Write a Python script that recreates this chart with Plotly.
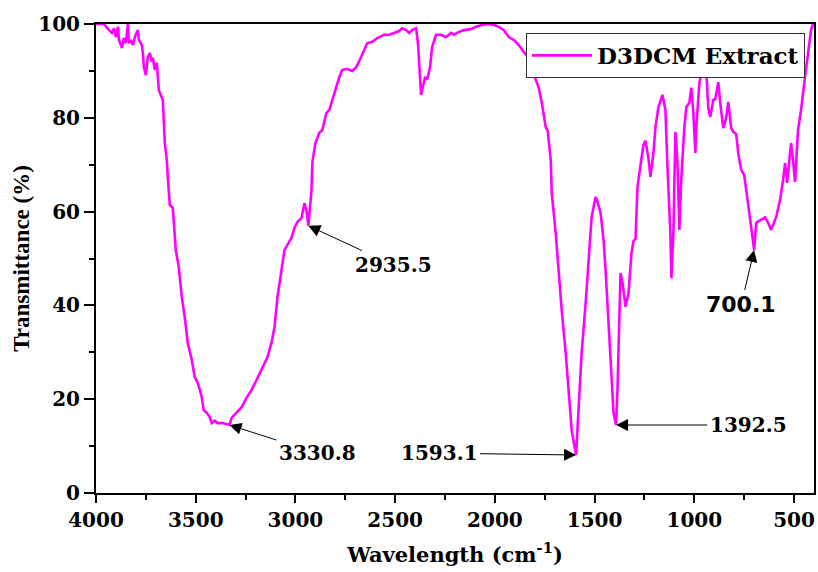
import plotly.graph_objects as go

# FTIR spectrum of the D3DCM extract: wavenumber (cm-1) vs transmittance (%)
wavenumber = [
    4000, 3960, 3935, 3920, 3910, 3900, 3890, 3885, 3870, 3860, 3850, 3840, 3835,
    3825, 3815, 3805, 3790, 3785, 3770, 3765, 3760, 3750, 3740, 3730, 3720, 3715,
    3705, 3695, 3685, 3675, 3665, 3655, 3645, 3640, 3630, 3615, 3600, 3585, 3570,
    3555, 3540, 3520, 3505, 3490, 3470, 3460, 3445, 3430, 3420, 3405, 3390, 3365,
    3330.8, 3320, 3295, 3270, 3245, 3220, 3195, 3165, 3140, 3120, 3105, 3090, 3070,
    3055, 3040, 3020, 3005, 2990, 2970, 2955, 2945, 2935.5, 2920, 2915, 2900, 2880,
    2865, 2845, 2830, 2815, 2795, 2780, 2765, 2740, 2715, 2695, 2670, 2655, 2640,
    2615, 2590, 2555, 2530, 2505, 2480, 2465, 2445, 2430, 2415, 2395, 2385, 2370,
    2360, 2350, 2340, 2325, 2315, 2295, 2270, 2245, 2220, 2205, 2190, 2155, 2120,
    2095, 2065, 2030, 2005, 1980, 1955, 1930, 1905, 1880, 1855, 1830, 1815, 1805,
    1780, 1765, 1745, 1735, 1720, 1715, 1695, 1680, 1665, 1645, 1630, 1615, 1593.1,
    1580, 1565, 1545, 1530, 1520, 1515, 1495, 1485, 1470, 1455, 1445, 1430, 1415,
    1405, 1392.5, 1385, 1370, 1360, 1345, 1330, 1315, 1305, 1295, 1285, 1270, 1255,
    1245, 1230, 1220, 1205, 1195, 1180, 1160, 1145, 1135, 1120, 1115, 1105, 1095,
    1085, 1075, 1065, 1050, 1040, 1025, 1015, 1005, 995, 990, 975, 960, 945, 940,
    930, 920, 905, 895, 880, 870, 855, 840, 830, 815, 805, 790, 780, 765, 750, 735,
    720, 700.1, 690, 670, 645, 630, 615, 590, 570, 555, 545, 535, 515, 505, 495,
    480, 465, 445, 430, 415, 405, 400,
]
transmittance = [
    100.0, 100.0, 98.7, 98.1, 99.1, 97.2, 99.4, 96.6, 94.9, 97.0, 95.9, 100.0, 95.9,
    96.6, 95.5, 97.2, 98.7, 96.6, 95.5, 93.8, 90.8, 89.1, 93.0, 93.8, 91.9, 92.8,
    90.2, 91.7, 85.9, 84.9, 83.8, 74.6, 71.0, 67.4, 61.4, 60.8, 51.8, 48.2, 41.8,
    37.5, 32.0, 28.4, 24.7, 23.5, 20.5, 17.7, 17.1, 16.2, 14.9, 15.4, 14.9, 14.9,
    14.5, 16.0, 17.1, 18.3, 20.3, 22.0, 24.1, 26.7, 29.0, 32.0, 35.4, 41.8, 48.2,
    51.8, 52.9, 54.4, 56.5, 57.8, 58.6, 61.8, 60.3, 57.0, 64.2, 70.6, 74.6, 76.8,
    77.4, 81.0, 81.7, 83.8, 86.6, 88.7, 90.2, 90.4, 90.0, 90.8, 93.0, 94.5, 95.9,
    96.2, 97.0, 97.7, 97.7, 98.1, 98.5, 99.1, 98.7, 98.1, 98.7, 99.1, 95.5, 84.9,
    86.6, 88.7, 88.1, 90.8, 95.1, 97.7, 97.7, 97.2, 98.1, 97.7, 98.1, 98.7, 98.9,
    99.4, 99.8, 100.0, 99.8, 99.4, 98.7, 97.2, 96.6, 95.5, 94.0, 92.8, 91.7, 89.3,
    86.4, 83.2, 78.0, 77.2, 71.0, 64.0, 55.4, 46.9, 39.0, 29.9, 21.3, 13.4, 8.1,
    19.2, 29.9, 40.5, 50.3, 54.6, 58.8, 63.1, 62.0, 59.7, 53.9, 47.5, 36.9, 26.2,
    17.1, 14.5, 22.6, 46.9, 44.8, 39.7, 42.6, 51.2, 53.7, 54.2, 65.2, 69.9, 74.2,
    75.1, 71.4, 67.4, 72.5, 78.0, 82.3, 84.9, 81.7, 69.9, 55.4, 45.8, 55.4, 77.0,
    71.0, 56.1, 67.4, 78.0, 82.3, 83.2, 86.4, 81.0, 72.5, 78.0, 87.4, 90.2, 91.9, 89.8,
    82.1, 80.2, 83.8, 84.0, 87.6, 83.2, 77.8, 80.0, 83.4, 77.8, 77.0, 76.5, 72.5, 68.9, 67.8, 63.1,
    57.8, 51.8, 57.6, 58.2, 58.8, 57.6, 56.1, 58.8, 62.5, 66.7, 70.4, 66.1, 74.6, 71.0, 66.3,
    77.4, 81.7, 88.7, 93.8, 98.7, 100.0, 100.0,
]

# Labelled absorption bands: band minimum and where its label sits
peak_labels = ["3330.8", "2935.5", "1593.1", "1392.5", "700.1"]
peak_x = [3330.8, 2935.5, 1593.1, 1392.5, 700.1]
peak_y = [14.5, 57.0, 8.1, 14.5, 51.8]
text_x = [2890, 2510, 2280, 730, 765]
text_y = [8.5, 48.6, 8.5, 14.5, 40.1]
text_font = ["DejaVu Serif", "DejaVu Serif", "DejaVu Serif", "DejaVu Serif", "DejaVu Sans"]
text_size = [20, 20, 20, 20, 22]

x_ticks = [4000, 3500, 3000, 2500, 2000, 1500, 1000, 500]
y_ticks = [0, 20, 40, 60, 80, 100]

fig = go.Figure()
fig.add_trace(go.Scatter(
    x=wavenumber, y=transmittance, mode="lines", name="D3DCM Extract",
    line=dict(color="#ff00ff", width=2.6),
))

for i, lab in enumerate(peak_labels):
    # label placed at (ax, ay); arrow runs from the label to the band minimum
    fig.add_annotation(
        x=peak_x[i], y=peak_y[i], ax=text_x[i], ay=text_y[i],
        xref="x", yref="y", axref="x", ayref="y", text=lab,
        showarrow=True, arrowhead=2, arrowsize=2.4, arrowwidth=1, arrowcolor="black",
        borderpad=2,
        font=dict(family=text_font[i], size=text_size[i], color="black", weight="bold"),
    )

fig.update_layout(
    width=818, height=572,
    margin=dict(l=96, r=2, t=24, b=79),
    paper_bgcolor="white", plot_bgcolor="white",
    showlegend=True,
    legend=dict(
        x=0.9875, y=0.981, xanchor="right", yanchor="top",
        bgcolor="white", bordercolor="#333333", borderwidth=1,
        font=dict(family="DejaVu Serif", size=23, color="black", weight="bold"),
        itemwidth=60,
    ),
    xaxis=dict(
        range=[4000, 400], tickvals=x_ticks, ticktext=[str(v) for v in x_ticks],
        showgrid=False, zeroline=False, showline=True, linecolor="black", linewidth=2,
        mirror=True, ticks="outside", ticklen=8, tickwidth=2, tickcolor="black",
        minor=dict(dtick=250, ticks="outside", ticklen=5, tickwidth=2, tickcolor="black"),
        tickfont=dict(family="DejaVu Serif", size=20, color="black", weight="bold"),
        title=dict(text="Wavelength (cm<sup>-1</sup>)",
                   font=dict(family="DejaVu Serif", size=21, color="black", weight="bold"),
                   standoff=16),
    ),
    yaxis=dict(
        range=[0, 100], tickvals=y_ticks,
        showgrid=False, zeroline=False, showline=True, linecolor="black", linewidth=2,
        mirror=True, ticks="outside", ticklen=10, tickwidth=2, tickcolor="black",
        minor=dict(dtick=10, ticks="outside", ticklen=5, tickwidth=2, tickcolor="black"),
        tickfont=dict(family="DejaVu Serif", size=20, color="black", weight="bold"),
        title=dict(text="Transmittance (%)",
                   font=dict(family="Liberation Serif", size=23, color="black", weight="bold"),
                   standoff=2),
    ),
)

fig.write_html("out.html")
